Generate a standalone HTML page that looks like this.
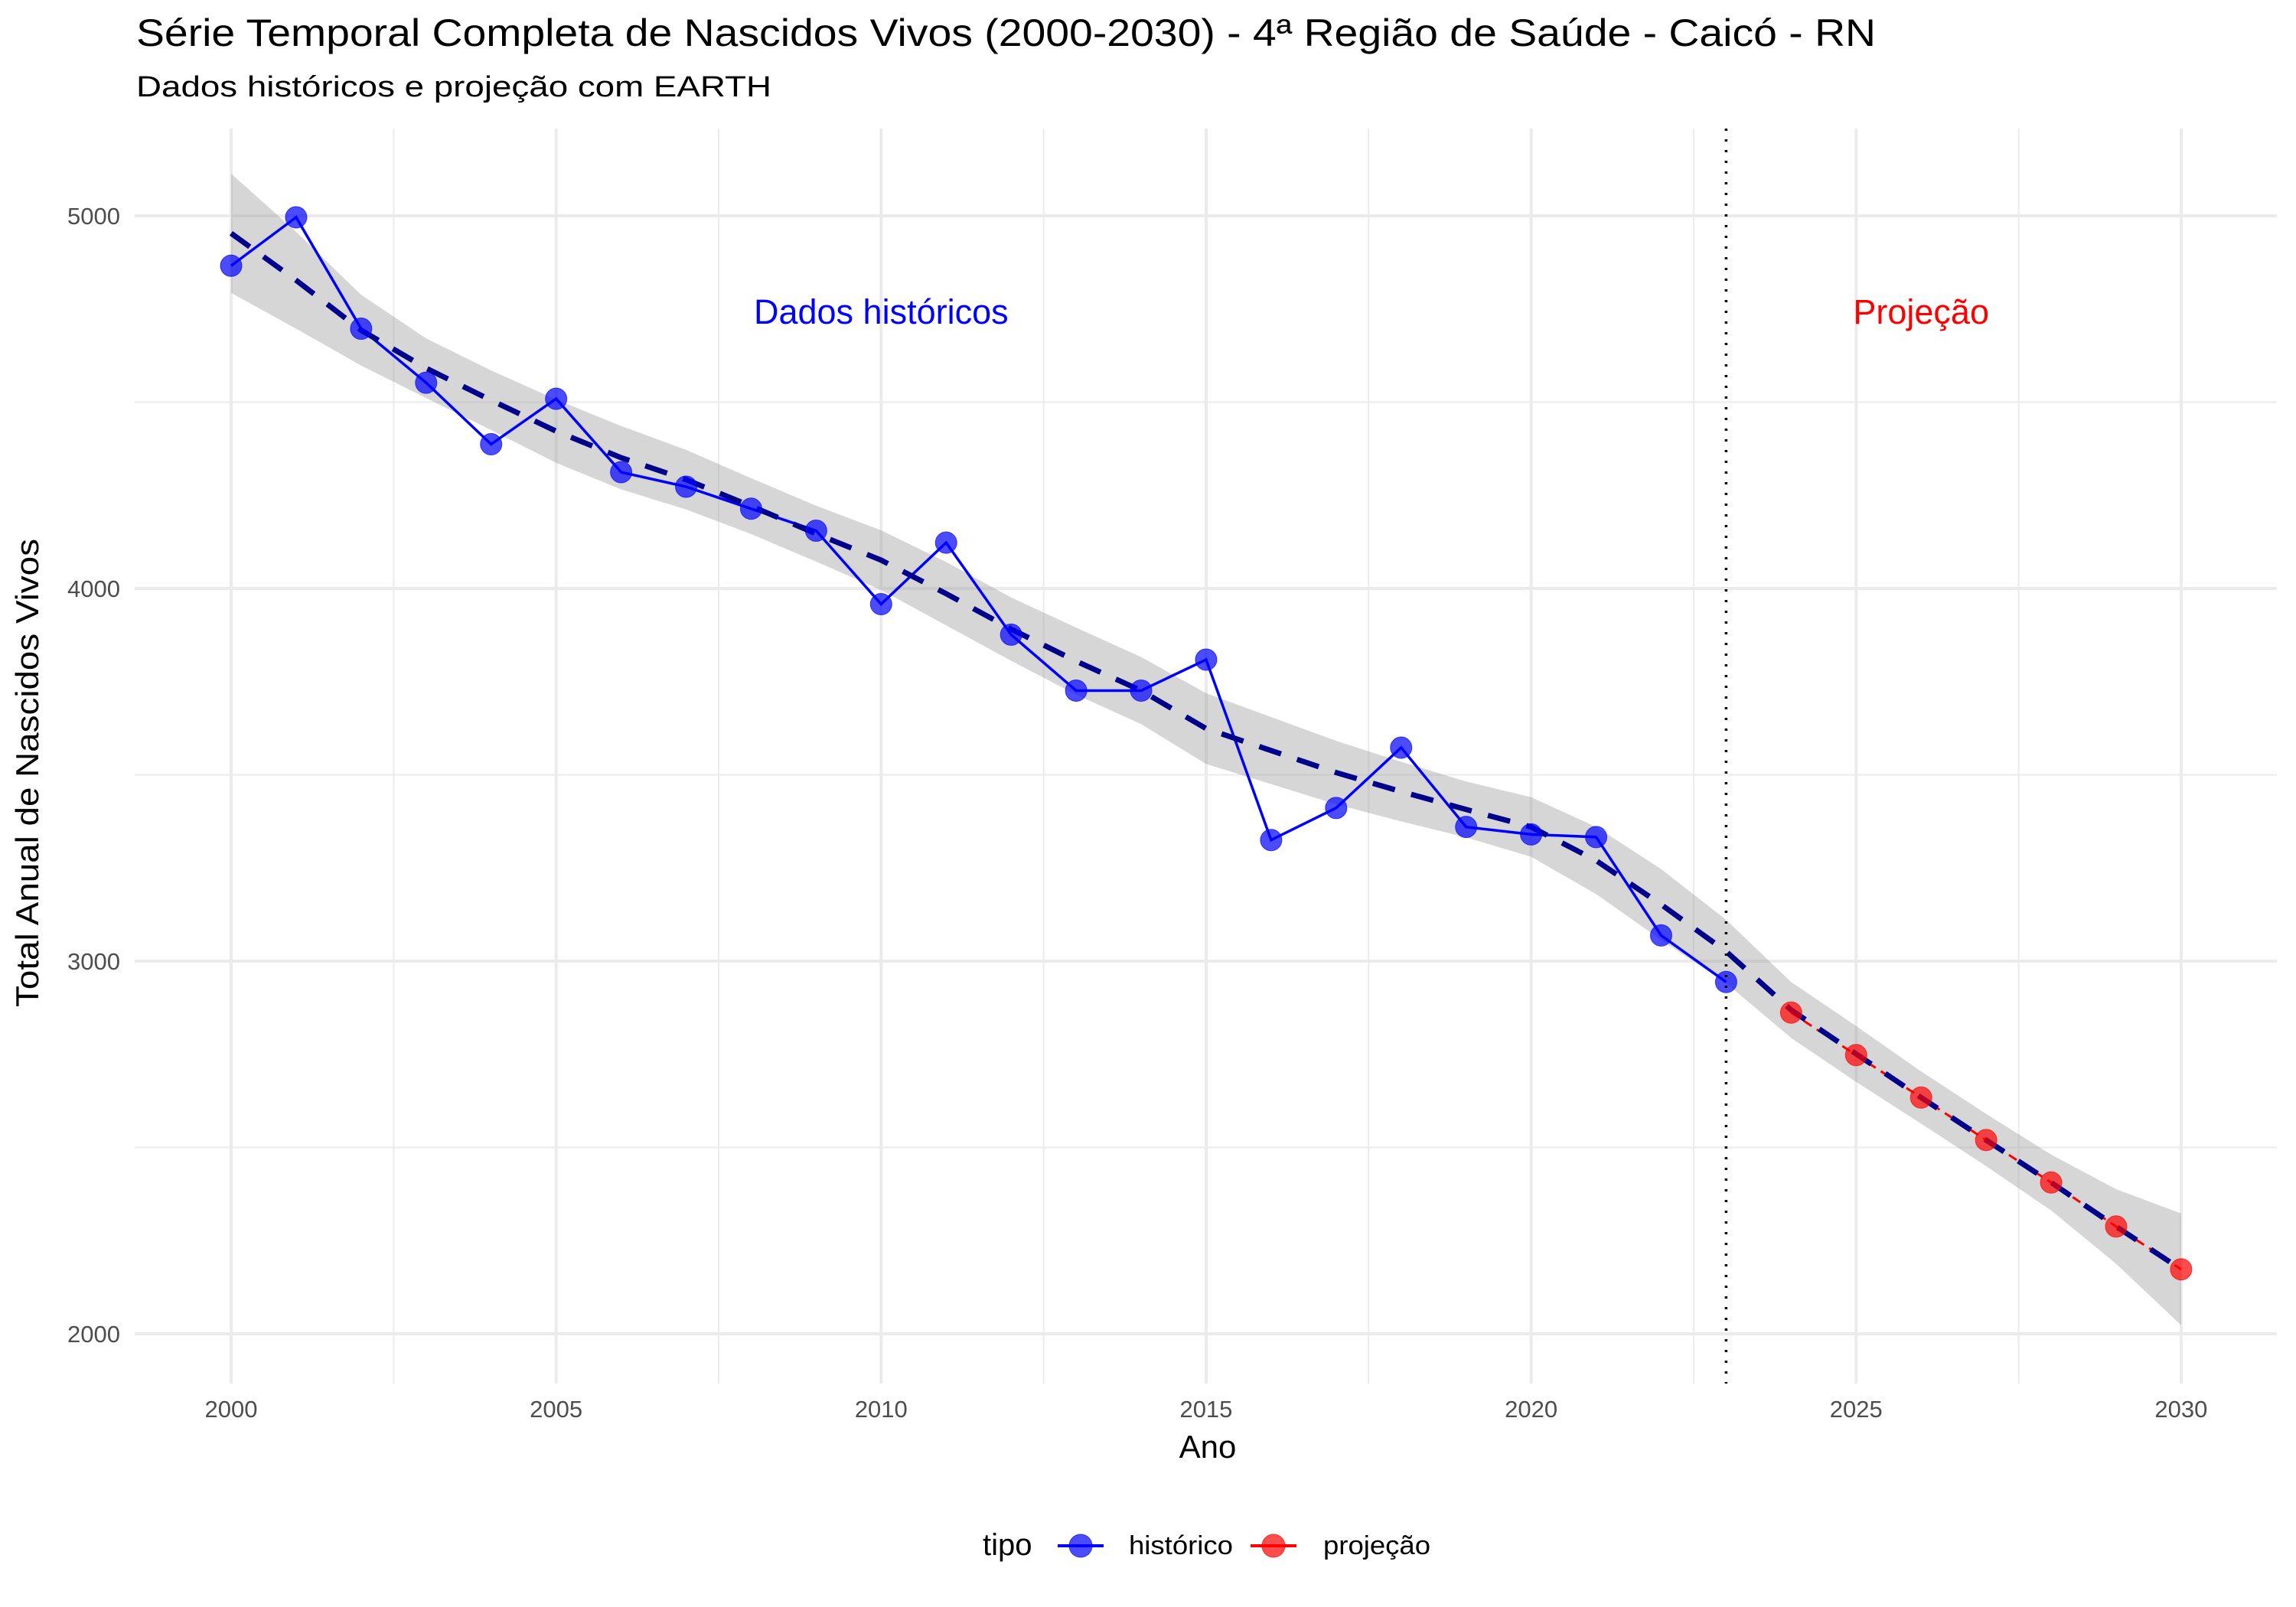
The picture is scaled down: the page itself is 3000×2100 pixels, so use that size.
<!DOCTYPE html>
<html><head><meta charset="utf-8"><style>
body{margin:0;background:#fff}
svg{display:block;font-family:"Liberation Sans",sans-serif}
</style></head><body>
<svg id="chart" width="3000" height="2100" viewBox="0 0 3000 2100" xmlns="http://www.w3.org/2000/svg">
<text x="178" y="60" font-size="50" textLength="2273" lengthAdjust="spacingAndGlyphs" fill="#000">Série Temporal Completa de Nascidos Vivos (2000-2030) -  4ª Região de Saúde - Caicó - RN</text>
<text x="178" y="126" font-size="38" textLength="830" lengthAdjust="spacingAndGlyphs" fill="#000">Dados históricos e projeção com EARTH</text>
<g id="grid"></g>
<g id="marks"></g>
<g id="axes"></g>
<text x="1578" y="1905" font-size="42" text-anchor="middle">Ano</text>
<text transform="translate(50,1010) rotate(-90)" font-size="42" text-anchor="middle" textLength="612" lengthAdjust="spacingAndGlyphs">Total Anual de Nascidos Vivos</text>
<g>
<text x="1284" y="2032" font-size="40">tipo</text>
<g>
<line x1="1382" y1="2020" x2="1442" y2="2020" stroke="#0000ff" stroke-width="4"/>
<circle cx="1412" cy="2020" r="15" fill="#0000ff" fill-opacity="0.7" stroke="#0000ff" stroke-opacity="0.7"/>
<text x="1475" y="2031" font-size="34" textLength="136" lengthAdjust="spacingAndGlyphs">histórico</text></g>
<g>
<line x1="1634" y1="2020" x2="1694" y2="2020" stroke="#ff0000" stroke-width="4"/>
<circle cx="1664" cy="2020" r="15" fill="#ff0000" fill-opacity="0.7" stroke="#ff0000" stroke-opacity="0.7"/>
<text x="1729" y="2031" font-size="34" textLength="140" lengthAdjust="spacingAndGlyphs">projeção</text></g>
</g>
</svg>
<script>
const histYears=[2000,2001,2002,2003,2004,2005,2006,2007,2008,2009,2010,2011,2012,2013,2014,2015,2016,2017,2018,2019,2020,2021,2022,2023];
const histValues=[4866,4996,4697,4552,4387,4509,4312,4273,4214,4155,3958,4123,3876,3726,3726,3809,3325,3411,3573,3360,3340,3333,3069,2944];
const projYears=[2024,2025,2026,2027,2028,2029,2030];
const projValues=[2862,2748,2634,2520,2406,2288,2173];
const trendYears=[2000,2001,2002,2003,2004,2005,2006,2007,2008,2009,2010,2011,2012,2013,2014,2015,2016,2017,2018,2019,2020,2021,2022,2023,2024,2025,2026,2027,2028,2029,2030];
const trendValues=[4953,4827,4693,4591,4505,4422,4351,4292,4221,4147,4076,3986,3891,3805,3726,3624,3565,3506,3455,3407,3360,3270,3152,3026,2869,2751,2634,2520,2406,2288,2173];
const bandHalf=[160,130,95,80,80,85,85,80,75,75,80,85,85,90,90,95,90,85,80,75,80,90,95,85,75,75,70,70,75,100,150];
const xTicks=[2000,2005,2010,2015,2020,2025,2030];
const yTicks=[2000,3000,4000,5000];
const cutYear=2023;

const NS='http://www.w3.org/2000/svg';
const X=y=>302+(y-2000)*84.93;
const Y=v=>282+(5000-v)*0.487;
const L=176,R=2975,T=168,B=1808;
function mk(tag,attrs,parent){const e=document.createElementNS(NS,tag);for(const k in attrs)e.setAttribute(k,attrs[k]);parent.appendChild(e);return e;}
const grid=document.getElementById('grid'),marks=document.getElementById('marks'),axes=document.getElementById('axes');
for(let i=0;i<yTicks.length;i++){
  const v=yTicks[i];
  const g=mk('line',{x1:L,x2:R,y1:Y(v),y2:Y(v),stroke:'#ebebeb','stroke-width':4},grid);
  
  
  if(i<yTicks.length-1){const m=mk('line',{x1:L,x2:R,y1:Y(v+500),y2:Y(v+500),stroke:'#ebebeb','stroke-width':2},grid);
  
  }
  const t=mk('text',{x:157,y:Y(v)+11,'font-size':31,fill:'#4d4d4d','text-anchor':'end'},axes);t.textContent=v;
  
  
}
for(let i=0;i<xTicks.length;i++){
  const v=xTicks[i];
  const g=mk('line',{x1:X(v),x2:X(v),y1:T,y2:B,stroke:'#ebebeb','stroke-width':4},grid);
  
  
  if(i<xTicks.length-1){const m=mk('line',{x1:X(v+2.5),x2:X(v+2.5),y1:T,y2:B,stroke:'#ebebeb','stroke-width':2},grid);
  
  }
  const t=mk('text',{x:X(v),y:1852,'font-size':31,fill:'#4d4d4d','text-anchor':'middle'},axes);t.textContent=v;
  
  
}
let up=trendYears.map((y,i)=>X(y)+','+Y(trendValues[i]+bandHalf[i]));
let lo=trendYears.map((y,i)=>X(y)+','+Y(trendValues[i]-bandHalf[i])).reverse();
const band=mk('polygon',{points:up.concat(lo).join(' '),fill:'#999','fill-opacity':0.4},marks);


const hl=mk('polyline',{points:histYears.map((y,i)=>X(y)+','+Y(histValues[i])).join(' '),fill:'none',stroke:'#0000ff','stroke-width':3.5},marks);


const pl=mk('polyline',{points:projYears.map((y,i)=>X(y)+','+Y(projValues[i])).join(' '),fill:'none',stroke:'#ff0000','stroke-width':3,'stroke-dasharray':'12,8'},marks);


const tl=mk('polyline',{points:trendYears.map((y,i)=>X(y)+','+Y(trendValues[i])).join(' '),fill:'none',stroke:'#00008b','stroke-width':7,'stroke-dasharray':'30,22'},marks);


histYears.forEach((y,i)=>{const c=mk('circle',{cx:X(y),cy:Y(histValues[i]),r:14,fill:'#0000ff','fill-opacity':0.7,stroke:'#0000ff','stroke-opacity':0.7},marks);

});
projYears.forEach((y,i)=>{const c=mk('circle',{cx:X(y),cy:Y(projValues[i]),r:14,fill:'#ff0000','fill-opacity':0.7,stroke:'#ff0000','stroke-opacity':0.7},marks);

});
const vl=mk('line',{x1:X(cutYear),x2:X(cutYear),y1:T,y2:B,stroke:'#000','stroke-width':3.5,'stroke-dasharray':'3,11'},marks);


const a1=mk('text',{x:X(2010),y:423,'font-size':45,fill:'#0000ff','text-anchor':'middle'},marks);a1.textContent='Dados históricos';


const a2=mk('text',{x:X(2026),y:423,'font-size':45,fill:'#ff0000','text-anchor':'middle'},marks);a2.textContent='Projeção';


</script>
</body></html>
